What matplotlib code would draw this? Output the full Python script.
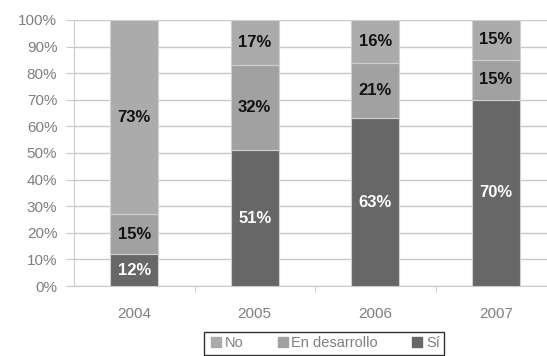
import numpy as np
import matplotlib
matplotlib.use("Agg")
import matplotlib.pyplot as plt
from matplotlib.lines import Line2D
from matplotlib.ticker import PercentFormatter

years = ["2004", "2005", "2006", "2007"]
si = [12, 51, 63, 70]
en_desarrollo = [15, 32, 21, 15]
no = [73, 17, 16, 15]
series_names = ["No", "En desarrollo", "Sí"]

plt.rcParams['font.family'] = ['Liberation Sans Narrow', 'Liberation Sans', 'DejaVu Sans']

col_no = "#ababab"
col_dev = "#a1a1a1"
col_si = "#676767"
grid_col = "#c9c9c9"
txt_col = "#7f7f7f"

fig = plt.figure(figsize=(5.47, 3.56), dpi=100)
ax = fig.add_axes([74/547, 70/356, 482/547, 266/356])

x = np.arange(len(years))
w = 0.4
ax.bar(x, si, w, color=col_si, edgecolor="#d0d0d0", linewidth=0.8, zorder=3)
ax.bar(x, en_desarrollo, w, bottom=si, color=col_dev, edgecolor="#d0d0d0", linewidth=0.8, zorder=3)
bott = np.array(si) + np.array(en_desarrollo)
ax.bar(x, no, w, bottom=bott, color=col_no, edgecolor="#d0d0d0", linewidth=0.8, zorder=3)

# labels inside segments
for i in range(len(years)):
    ax.text(x[i], si[i] / 2, "%d%%" % si[i], ha="center", va="center",
            color="white", fontsize=12, fontweight="bold", zorder=4)
    ax.text(x[i], si[i] + en_desarrollo[i] / 2, "%d%%" % en_desarrollo[i], ha="center", va="center",
            color="#111111", fontsize=12, fontweight="bold", zorder=4)
    ax.text(x[i], bott[i] + no[i] / 2, "%d%%" % no[i], ha="center", va="center",
            color="#111111", fontsize=12, fontweight="bold", zorder=4)

ax.set_xlim(-0.5, len(years) - 0.5)
ax.set_ylim(0, 100)
ax.set_yticks(np.arange(0, 101, 10))
ax.yaxis.set_major_formatter(PercentFormatter(decimals=0))
ax.yaxis.grid(True, color=grid_col, linewidth=1, zorder=0)

ax.set_xticks(x)
ax.set_xticklabels(years)
ax.set_xticks(np.arange(0.5, len(years) - 0.5, 1), minor=True)
ax.tick_params(axis="x", which="major", length=0, pad=15, labelsize=11, labelcolor=txt_col)
ax.tick_params(axis="x", which="minor", length=5, color=grid_col, direction="out")
ax.tick_params(axis="y", length=6, color=grid_col, labelsize=11, labelcolor=txt_col, pad=6)

for s in ["top", "right"]:
    ax.spines[s].set_visible(False)
ax.spines["left"].set_color(grid_col)
ax.spines["bottom"].set_color(grid_col)

handles = [Line2D([], [], marker="s", linestyle="none", color=col_no, markersize=7),
           Line2D([], [], marker="s", linestyle="none", color=col_dev, markersize=7),
           Line2D([], [], marker="s", linestyle="none", color=col_si, markersize=7)]
leg = fig.legend(handles, series_names, loc="upper left", bbox_to_anchor=(204/547, 1 - 332/356),
                 ncol=3, frameon=True, fancybox=False, fontsize=10.5, handletextpad=0.1,
                 columnspacing=2.2, borderpad=0.3, handlelength=1.0, borderaxespad=0)
leg.get_frame().set_edgecolor("black")
leg.get_frame().set_linewidth(1.0)
for t in leg.get_texts():
    t.set_color(txt_col)

plt.savefig("out.png", dpi=100)
plt.close()
